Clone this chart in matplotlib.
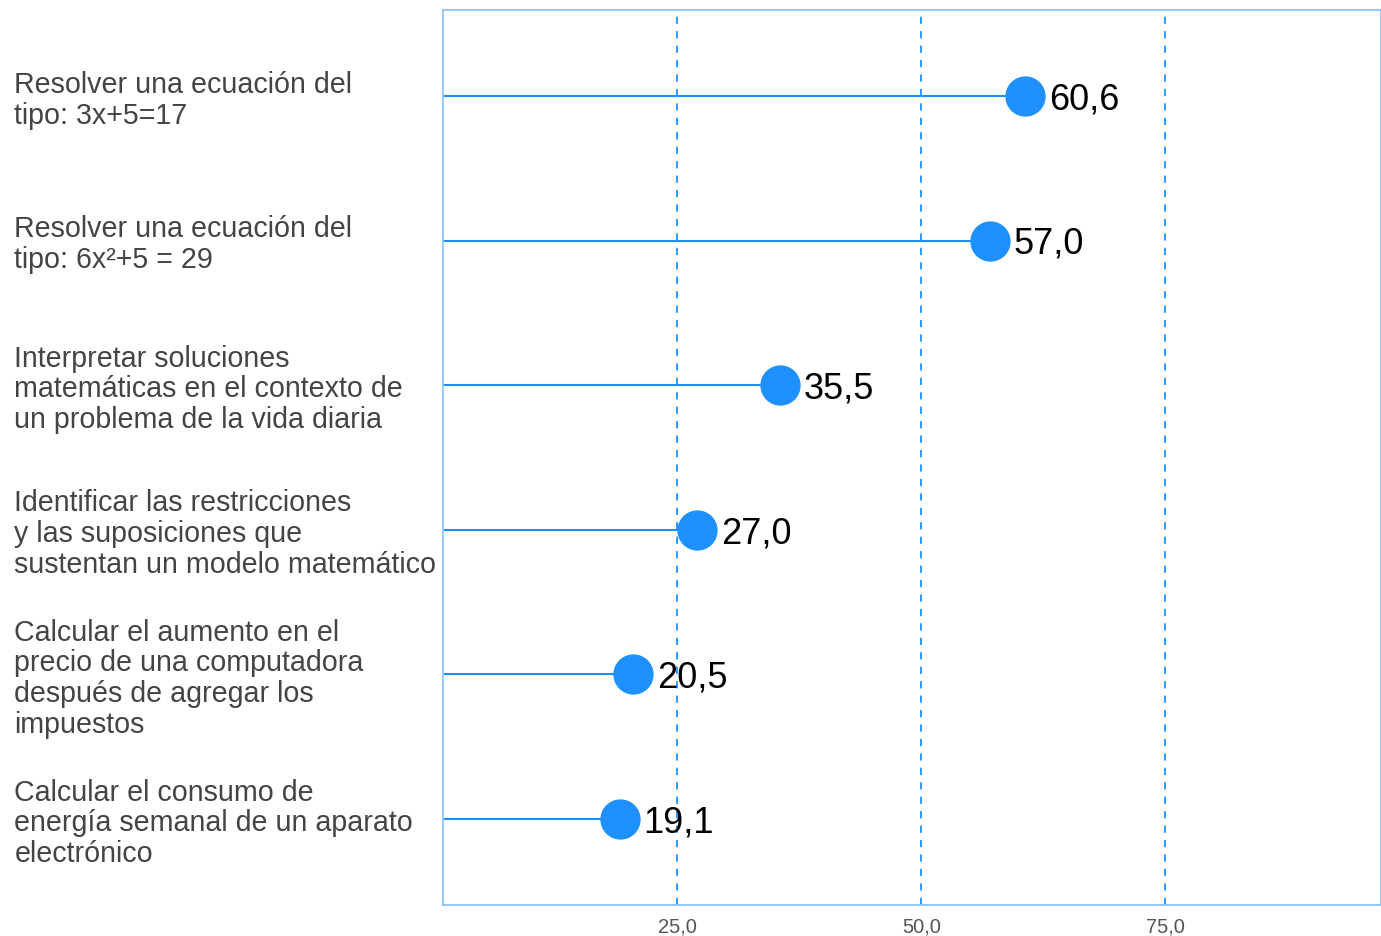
import matplotlib
matplotlib.use("Agg")
import matplotlib.pyplot as plt

categories = [
    "Resolver una ecuación del\ntipo: 3x+5=17",
    "Resolver una ecuación del\ntipo: 6x²+5 = 29",
    "Interpretar soluciones\nmatemáticas en el contexto de\nun problema de la vida diaria",
    "Identificar las restricciones\ny las suposiciones que\nsustentan un modelo matemático",
    "Calcular el aumento en el\nprecio de una computadora\ndespués de agregar los\nimpuestos",
    "Calcular el consumo de\nenergía semanal de un aparato\nelectrónico",
]
values = [60.6, 57.0, 35.5, 27.0, 20.5, 19.1]
xticks = [25, 50, 75]
xtick_labels = ["25,0", "50,0", "75,0"]

plt.rcParams['font.family'] = ['Liberation Sans', 'DejaVu Sans']
fig = plt.figure(figsize=(13.81, 9.37), dpi=100)
ax = fig.add_axes([443/1381, 1-906/937, (1381-443)/1381, (906-11)/937])

blue = "#1E90FF"
ys = list(range(len(values)))
for y, v in zip(ys, values):
    ax.plot([0, v], [y, y], color=blue, lw=1.5, zorder=2)
    ax.plot([v], [y], 'o', color=blue, ms=28, zorder=3)
    ax.text(v + 2.45, y - 0.008, f"{v:.1f}".replace(".", ","), va='center_baseline', ha='left',
            fontsize=26, color='black', zorder=4)

ax.set_xlim(1.0, 97.1)
ax.set_ylim(len(values) - 1 + 0.595, -0.595)
ax.set_xticks(xticks)
ax.set_xticklabels(xtick_labels, fontsize=14.5, color="#555555")
ax.set_yticks([])
ax.tick_params(axis='x', length=0, pad=8)
for x in xticks:
    ax.axvline(x, color=blue, lw=1.3, ls=(0, (4, 4)), zorder=1)
for s in ax.spines.values():
    s.set_color("#8CC4FF")
    s.set_linewidth(1.3)

for y, c in zip(ys, categories):
    ax.text(-0.457, y + 0.022, c, transform=ax.get_yaxis_transform(), ha='left', va='center',
            fontsize=20.6, color="#444444", linespacing=1.12)

fig.savefig("out.png", dpi=100)
